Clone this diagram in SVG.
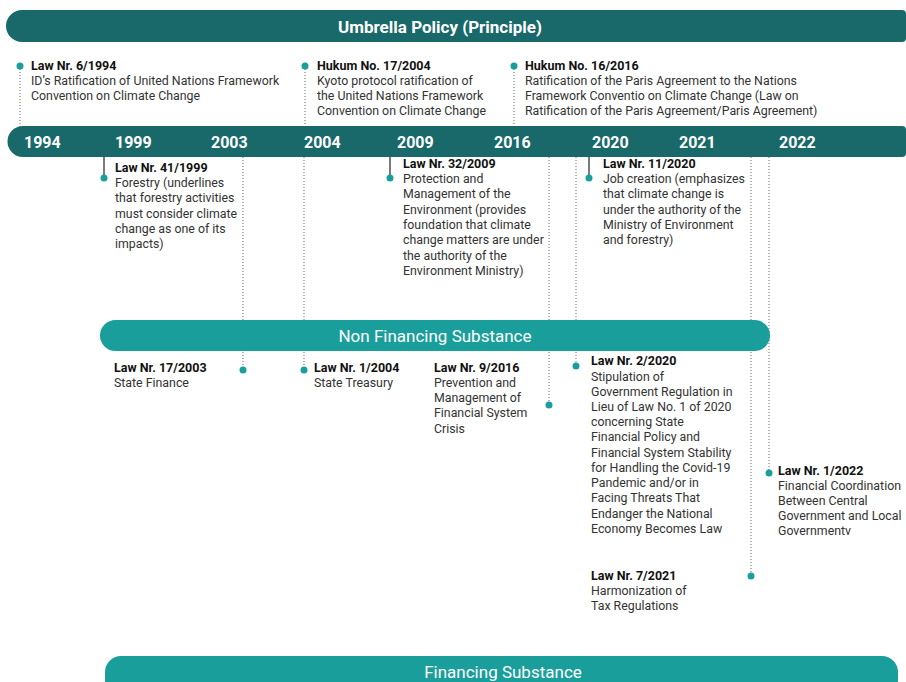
<svg xmlns="http://www.w3.org/2000/svg" width="906" height="682" viewBox="0 0 906 682">
<style>
.t{font-family:Roboto,"Liberation Sans",sans-serif;font-size:12.5px;font-weight:700;fill:#111}
.b{font-family:Roboto,"Liberation Sans",sans-serif;font-size:12.35px;fill:#333}
.yr{font-family:Roboto,"Liberation Sans",sans-serif;font-size:16px;font-weight:700;fill:#fff}
.hd{font-family:Roboto,"Liberation Sans",sans-serif;font-size:17px;fill:#fff;text-anchor:middle}
.dot{fill:#1a9e9b}
.dl{stroke:#666;stroke-width:1;stroke-dasharray:1 2;fill:none}
.sl{stroke:#222;stroke-width:1.2;fill:none}
</style>
<rect width="906" height="682" fill="#fff"/>

<g id="connectors">
<line class="dl" x1="20" y1="66" x2="20" y2="127"/>
<line class="dl" x1="305" y1="66" x2="305" y2="127"/>
<line class="dl" x1="514" y1="66" x2="514" y2="127"/>
<line class="sl" x1="104" y1="156" x2="104" y2="178"/>
<line class="sl" x1="390" y1="156" x2="390" y2="178"/>
<line class="sl" x1="589" y1="156" x2="589" y2="178"/>
<line class="dl" x1="243" y1="157" x2="243" y2="370"/>
<line class="dl" x1="304" y1="157" x2="304" y2="370"/>
<line class="dl" x1="549" y1="157" x2="549" y2="405"/>
<line class="dl" x1="576" y1="157" x2="576" y2="366"/>
<line class="dl" x1="751" y1="157" x2="751" y2="576"/>
<line class="dl" x1="769" y1="157" x2="769" y2="473"/>
</g>

<g id="umbrella-bar">
<path d="M22 10 H902 Q906 10 906 14 V38 Q906 42 902 42 H22 A16 16 0 0 1 22 10 Z" fill="#19686a"/>
<text x="440" y="33" class="hd" style="font-weight:700">Umbrella Policy (Principle)</text>
</g>

<g id="timeline-bar">
<path d="M23 126 H902 Q906 126 906 130 V153 Q906 157 902 157 H23 A15.5 15.5 0 0 1 23 126 Z" fill="#19686a"/>
<text x="24" y="148" class="yr">1994</text>
<text x="115" y="148" class="yr">1999</text>
<text x="211" y="148" class="yr">2003</text>
<text x="304" y="148" class="yr">2004</text>
<text x="397" y="148" class="yr">2009</text>
<text x="494" y="148" class="yr">2016</text>
<text x="592" y="148" class="yr">2020</text>
<text x="679" y="148" class="yr">2021</text>
<text x="779" y="148" class="yr">2022</text>
</g>

<g id="non-financing-bar">
<rect x="100" y="320" width="670" height="31" rx="15.5" fill="#1a9e9b"/>
<text x="435" y="342" class="hd">Non Financing Substance</text>
</g>

<g id="financing-bar">
<rect x="105" y="656" width="793" height="40" rx="16" fill="#1a9e9b"/>
<text x="503" y="678" class="hd">Financing Substance</text>
</g>

<g id="law-6-1994">
<circle class="dot" cx="20" cy="66" r="3.5"/>
<text x="31" y="70" class="t">Law Nr. 6/1994</text>
<text x="31" y="85" class="b">ID’s Ratification of United Nations Framework</text>
<text x="31" y="100" class="b">Convention on Climate Change</text>
</g>

<g id="hukum-17-2004">
<circle class="dot" cx="305" cy="66" r="3.5"/>
<text x="317" y="70" class="t">Hukum No. 17/2004</text>
<text x="317" y="85" class="b">Kyoto protocol ratification of</text>
<text x="317" y="100" class="b">the United Nations Framework</text>
<text x="317" y="115" class="b">Convention on Climate Change</text>
</g>

<g id="hukum-16-2016">
<circle class="dot" cx="514" cy="66" r="3.5"/>
<text x="525" y="70" class="t">Hukum No. 16/2016</text>
<text x="525" y="85" class="b">Ratification of the Paris Agreement to the Nations</text>
<text x="525" y="100" class="b">Framework Conventio on Climate Change (Law on</text>
<text x="525" y="115" class="b">Ratification of the Paris Agreement/Paris Agreement)</text>
</g>

<g id="law-41-1999">
<circle class="dot" cx="104" cy="178" r="3.5"/>
<text x="115" y="172" class="t">Law Nr. 41/1999</text>
<text x="115" y="187" class="b">Forestry (underlines</text>
<text x="115" y="202" class="b">that forestry activities</text>
<text x="115" y="218" class="b">must consider climate</text>
<text x="115" y="233" class="b">change as one of its</text>
<text x="115" y="248" class="b">impacts)</text>
</g>

<g id="law-32-2009">
<circle class="dot" cx="390" cy="178" r="3.5"/>
<text x="403" y="168" class="t">Law Nr. 32/2009</text>
<text x="403" y="183" class="b">Protection and</text>
<text x="403" y="198" class="b">Management of the</text>
<text x="403" y="214" class="b">Environment (provides</text>
<text x="403" y="229" class="b">foundation that climate</text>
<text x="403" y="244" class="b">change matters are under</text>
<text x="403" y="260" class="b">the authority of the</text>
<text x="403" y="275" class="b">Environment Ministry)</text>
</g>

<g id="law-11-2020">
<circle class="dot" cx="589" cy="178" r="3.5"/>
<text x="603" y="168" class="t">Law Nr. 11/2020</text>
<text x="603" y="183" class="b">Job creation (emphasizes</text>
<text x="603" y="198" class="b">that climate change is</text>
<text x="603" y="214" class="b">under the authority of the</text>
<text x="603" y="229" class="b">Ministry of Environment</text>
<text x="603" y="244" class="b">and forestry)</text>
</g>

<g id="law-17-2003">
<circle class="dot" cx="243" cy="370" r="3.5"/>
<text x="114" y="372" class="t">Law Nr. 17/2003</text>
<text x="114" y="387" class="b">State Finance</text>
</g>

<g id="law-1-2004">
<circle class="dot" cx="304" cy="370" r="3.5"/>
<text x="314" y="372" class="t">Law Nr. 1/2004</text>
<text x="314" y="387" class="b">State Treasury</text>
</g>

<g id="law-9-2016">
<circle class="dot" cx="549" cy="405" r="3.5"/>
<text x="434" y="372" class="t">Law Nr. 9/2016</text>
<text x="434" y="387" class="b">Prevention and</text>
<text x="434" y="402" class="b">Management of</text>
<text x="434" y="417" class="b">Financial System</text>
<text x="434" y="433" class="b">Crisis</text>
</g>

<g id="law-2-2020">
<circle class="dot" cx="576" cy="366" r="3.5"/>
<text x="591" y="365" class="t">Law Nr. 2/2020</text>
<text x="591" y="381" class="b">Stipulation of</text>
<text x="591" y="396" class="b">Government Regulation in</text>
<text x="591" y="411" class="b">Lieu of Law No. 1 of 2020</text>
<text x="591" y="426" class="b">concerning State</text>
<text x="591" y="441" class="b">Financial Policy and</text>
<text x="591" y="457" class="b">Financial System Stability</text>
<text x="591" y="472" class="b">for Handling the Covid-19</text>
<text x="591" y="487" class="b">Pandemic and/or in</text>
<text x="591" y="502" class="b">Facing Threats That</text>
<text x="591" y="518" class="b">Endanger the National</text>
<text x="591" y="533" class="b">Economy Becomes Law</text>
</g>

<g id="law-1-2022">
<circle class="dot" cx="769" cy="473" r="3.5"/>
<text x="778" y="475" class="t">Law Nr. 1/2022</text>
<text x="778" y="490" class="b">Financial Coordination</text>
<text x="778" y="505" class="b">Between Central</text>
<text x="778" y="520" class="b">Government and Local</text>
<text x="778" y="535" class="b">Governmentv</text>
</g>

<g id="law-7-2021">
<circle class="dot" cx="751" cy="576" r="3.5"/>
<text x="591" y="580" class="t">Law Nr. 7/2021</text>
<text x="591" y="595" class="b">Harmonization of</text>
<text x="591" y="610" class="b">Tax Regulations</text>
</g>
</svg>
